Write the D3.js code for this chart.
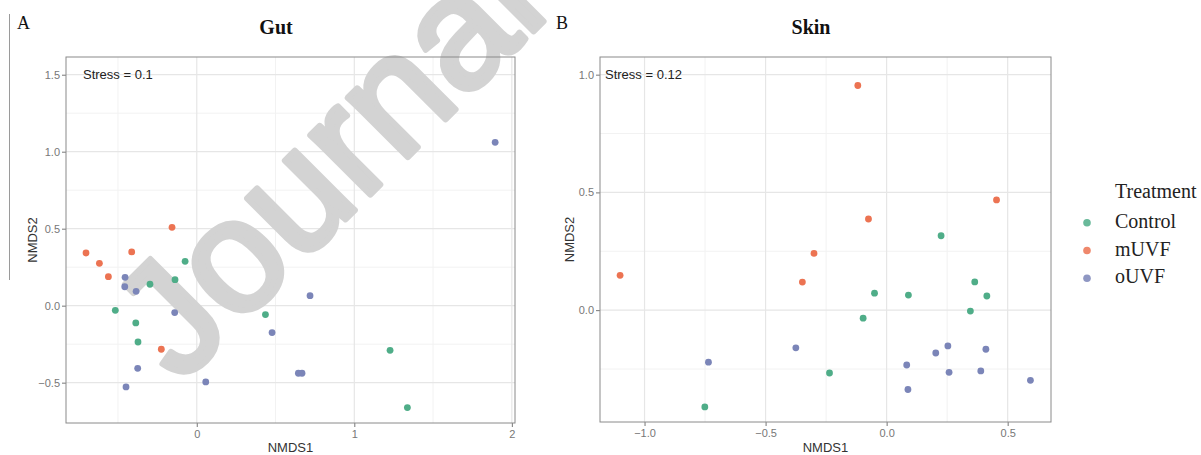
<!DOCTYPE html>
<html>
<head>
<meta charset="utf-8">
<script src="https://cdn.jsdelivr.net/npm/d3@7"></script>
<style>
  body { margin: 0; background: #fff; }
  text { font-family: "Liberation Sans", Arial, sans-serif; }
</style>
</head>
<body>
<svg id="chart" width="1201" height="455"></svg>
<script>
// treatment groups and colours
var groups = ["Control", "mUVF", "oUVF"];
var groupColors = ["#4fad88", "#ec7352", "#7b85b8"];

// Gut NMDS scores
var gutControlX = [-0.517, -0.297, -0.138, -0.074, -0.387, -0.373, 0.436, 1.227, 1.337];
var gutControlY = [-0.030, 0.139, 0.169, 0.288, -0.112, -0.236, -0.058, -0.290, -0.662];
var gutMUVFX = [-0.703, -0.618, -0.561, -0.413, -0.157, -0.225];
var gutMUVFY = [0.342, 0.275, 0.188, 0.349, 0.509, -0.283];
var gutOUVFX = [-0.455, -0.457, -0.385, -0.140, -0.375, -0.449, 0.057, 0.478, 0.719, 0.645, 0.668, 1.894];
var gutOUVFY = [0.184, 0.123, 0.093, -0.045, -0.407, -0.528, -0.495, -0.175, 0.065, -0.439, -0.439, 1.061];

// Skin NMDS scores
var skinControlX = [-0.097, -0.236, -0.751, 0.225, 0.364, -0.050, 0.090, 0.414, 0.346];
var skinControlY = [-0.034, -0.267, -0.411, 0.316, 0.120, 0.072, 0.064, 0.060, -0.004];
var skinMUVFX = [-0.119, -0.075, -1.101, -0.300, -0.348, 0.454];
var skinMUVFY = [0.954, 0.387, 0.148, 0.241, 0.119, 0.468];
var skinOUVFX = [-0.375, -0.736, 0.253, 0.203, 0.410, 0.083, 0.258, 0.389, 0.594, 0.088];
var skinOUVFY = [-0.160, -0.221, -0.152, -0.182, -0.166, -0.233, -0.264, -0.258, -0.298, -0.337];

// axis ticks
var gutXTicks = [0, 1, 2];
var gutYTicks = [-0.5, 0, 0.5, 1, 1.5];
var gutXMinor = [-0.5, 0.5, 1.5];
var gutYMinor = [-0.25, 0.25, 0.75, 1.25];
var skinXTicks = [-1, -0.5, 0, 0.5];
var skinYTicks = [0, 0.5, 1];
var skinXMinor = [-0.75, -0.25, 0.25];
var skinYMinor = [-0.25, 0.25, 0.75];

function toPoints(xs, ys, g) {
  var out = [];
  for (var i = 0; i < xs.length; i++) {
    out.push({x: xs[i], y: ys[i], g: g});
  }
  return out;
}

var svg = d3.select("#chart");
var color = d3.scaleOrdinal().domain(groups).range(groupColors);
var serif = "'Liberation Serif', 'Times New Roman', serif";

// thin rule at far left
svg.append("line").attr("x1", 9.5).attr("x2", 9.5).attr("y1", 14).attr("y2", 280)
  .attr("stroke", "#9a9a9a").attr("stroke-width", 1);

function drawPanel(p) {
  var x = d3.scaleLinear().domain(p.xDomain).range([p.left, p.right]);
  var y = d3.scaleLinear().domain(p.yDomain).range([p.bottom, p.top]);
  var g = svg.append("g");

  // minor grid
  g.selectAll(".vmin").data(p.xMinor).enter().append("line")
    .attr("x1", function(d) { return x(d); }).attr("x2", function(d) { return x(d); })
    .attr("y1", p.top).attr("y2", p.bottom)
    .attr("stroke", "#f2f2f2").attr("stroke-width", 1);
  g.selectAll(".hmin").data(p.yMinor).enter().append("line")
    .attr("y1", function(d) { return y(d); }).attr("y2", function(d) { return y(d); })
    .attr("x1", p.left).attr("x2", p.right)
    .attr("stroke", "#f2f2f2").attr("stroke-width", 1);
  // major grid
  g.selectAll(".vmaj").data(p.xTicks).enter().append("line")
    .attr("x1", function(d) { return x(d); }).attr("x2", function(d) { return x(d); })
    .attr("y1", p.top).attr("y2", p.bottom)
    .attr("stroke", "#e6e6e6").attr("stroke-width", 1.2);
  g.selectAll(".hmaj").data(p.yTicks).enter().append("line")
    .attr("y1", function(d) { return y(d); }).attr("y2", function(d) { return y(d); })
    .attr("x1", p.left).attr("x2", p.right)
    .attr("stroke", "#e6e6e6").attr("stroke-width", 1.2);

  // watermark layer (under the points)
  if (p.watermark) {
    g.append("text")
      .attr("transform", "translate(180,385) rotate(-45)")
      .style("font-family", "'Liberation Sans', Arial, sans-serif")
      .style("font-size", "160px").attr("fill", "#d3d3d3")
      .attr("stroke", "#d3d3d3").attr("stroke-width", 6).attr("stroke-linejoin", "round")
      .text(p.watermark);
  }

  // axes
  var xAxis = d3.axisBottom(x).tickValues(p.xTicks).tickSize(4).tickPadding(3)
    .tickFormat(p.xFmt);
  var yAxis = d3.axisLeft(y).tickValues(p.yTicks).tickSize(4).tickPadding(2)
    .tickFormat(d3.format(".1f"));
  var gx = g.append("g").attr("transform", "translate(0," + p.bottom + ")").call(xAxis);
  var gy = g.append("g").attr("transform", "translate(" + p.left + ",0)").call(yAxis);
  [gx, gy].forEach(function(a) {
    a.select(".domain").remove();
    a.selectAll("line").attr("stroke", "#777");
    a.selectAll("text").attr("fill", "#777").style("font-size", "11px")
      .style("font-family", "'Liberation Sans', Arial, sans-serif");
  });

  // points
  g.selectAll("circle").data(p.points).enter().append("circle")
    .attr("cx", function(d) { return x(d.x); })
    .attr("cy", function(d) { return y(d.y); })
    .attr("r", 3.4)
    .attr("fill", function(d) { return color(d.g); });

  // border
  g.append("rect").attr("x", p.left).attr("y", p.top)
    .attr("width", p.right - p.left).attr("height", p.bottom - p.top)
    .attr("fill", "none").attr("stroke", "#8a8a8a").attr("stroke-width", 1);

  g.append("text").attr("x", p.left + p.stressDx).attr("y", 79)
    .style("font-size", "13px").attr("fill", "#222").text(p.stress);

  g.append("text").attr("x", (p.left + p.right) / 2).attr("y", 452)
    .attr("text-anchor", "middle").style("font-size", "13px").attr("fill", "#333")
    .text("NMDS1");
  g.append("text").attr("transform", "translate(" + p.ylabX + "," + ((p.top + p.bottom) / 2) + ") rotate(-90)")
    .attr("text-anchor", "middle").style("font-size", "13px").attr("fill", "#333")
    .text("NMDS2");

  g.append("text").attr("x", p.titleX).attr("y", 34).attr("text-anchor", "middle")
    .style("font-family", serif)
    .style("font-weight", "bold").style("font-size", "20px").attr("fill", "#111")
    .text(p.title);
  g.append("text").attr("x", p.letterX).attr("y", 29)
    .style("font-family", serif)
    .style("font-size", "18px").attr("fill", "#111")
    .text(p.letter);
}

var gutPoints = toPoints(gutControlX, gutControlY, "Control")
  .concat(toPoints(gutMUVFX, gutMUVFY, "mUVF"))
  .concat(toPoints(gutOUVFX, gutOUVFY, "oUVF"));
var skinPoints = toPoints(skinControlX, skinControlY, "Control")
  .concat(toPoints(skinMUVFX, skinMUVFY, "mUVF"))
  .concat(toPoints(skinOUVFX, skinOUVFY, "oUVF"));

drawPanel({
  left: 66, right: 515, top: 57, bottom: 423,
  xDomain: [-0.83, 2.02], yDomain: [-0.762, 1.615],
  xTicks: gutXTicks, yTicks: gutYTicks, xMinor: gutXMinor, yMinor: gutYMinor,
  xFmt: d3.format("d"), points: gutPoints, stress: "Stress = 0.1", stressDx: 17,
  ylabX: 37, title: "Gut", titleX: 276, letter: "A", letterX: 17,
  watermark: "Journal"
});
drawPanel({
  left: 600, right: 1051, top: 57, bottom: 422,
  xDomain: [-1.184, 0.679], yDomain: [-0.475, 1.075],
  xTicks: skinXTicks, yTicks: skinYTicks, xMinor: skinXMinor, yMinor: skinYMinor,
  xFmt: d3.format(".1f"), points: skinPoints, stress: "Stress = 0.12", stressDx: 5,
  ylabX: 574, title: "Skin", titleX: 811, letter: "B", letterX: 556
});

// legend
var leg = svg.append("g");
leg.append("text").attr("x", 1115).attr("y", 198)
  .style("font-family", serif)
  .style("font-size", "20px").attr("fill", "#222").text("Treatment");
leg.selectAll(".item").data(groups).enter().append("g")
  .each(function(d, i) {
    var it = d3.select(this);
    it.append("circle").attr("cx", 1087).attr("cy", 222.7 + i * 27.8).attr("r", 3.8)
      .attr("fill", color(d)).attr("opacity", 0.85);
    it.append("text").attr("x", 1115).attr("y", 228 + i * 27.6)
      .style("font-family", serif)
      .style("font-size", "20px").attr("fill", "#222").text(d);
  });
</script>
</body>
</html>
